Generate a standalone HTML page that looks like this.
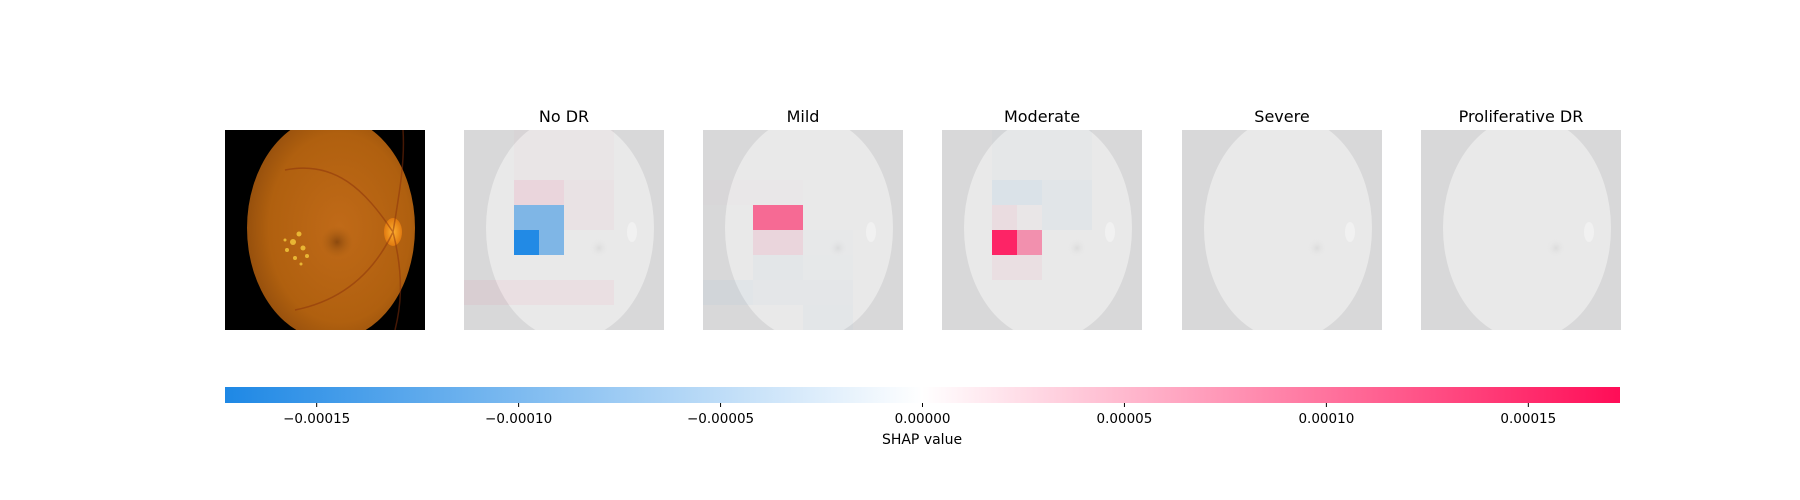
<!DOCTYPE html>
<html><head><meta charset="utf-8"><style>
html,body{margin:0;padding:0;background:#fff;}
svg{display:block;font-family:"DejaVu Sans","Liberation Sans",sans-serif;}
</style></head><body>
<svg id="fig" width="1800" height="500" viewBox="0 0 1800 500" xmlns="http://www.w3.org/2000/svg">
<defs>
  <clipPath id="pclip"><rect x="0" y="0" width="200" height="200"/></clipPath>
  <radialGradient id="fundus" cx="0.55" cy="0.5" r="0.6">
    <stop offset="0" stop-color="#c06a18"/>
    <stop offset="0.7" stop-color="#b0600f"/>
    <stop offset="1" stop-color="#8d4a0c"/>
  </radialGradient>
  <radialGradient id="disc" cx="0.5" cy="0.5" r="0.5">
    <stop offset="0" stop-color="#ffb030"/>
    <stop offset="1" stop-color="#e07a10"/>
  </radialGradient>
  <radialGradient id="mac" cx="0.5" cy="0.5" r="0.5">
    <stop offset="0" stop-color="#6a3408" stop-opacity="0.6"/>
    <stop offset="1" stop-color="#a05a10" stop-opacity="0"/>
  </radialGradient>
  <radialGradient id="gmac" cx="0.5" cy="0.5" r="0.5">
    <stop offset="0" stop-color="#dcdcdc"/>
    <stop offset="1" stop-color="#e9e9e9" stop-opacity="0"/>
  </radialGradient>
  <linearGradient id="cbar" x1="0" x2="1" y1="0" y2="0">
    <stop offset="0" stop-color="#1e88e5"/>
    <stop offset="0.5" stop-color="#ffffff"/>
    <stop offset="1" stop-color="#ff0d57"/>
  </linearGradient>
</defs>
<g id="orig" transform="translate(225,130)" clip-path="url(#pclip)">
  <rect width="200" height="200" fill="#000"/>
  <ellipse cx="106" cy="98" rx="84" ry="112" fill="url(#fundus)"/>
  <ellipse cx="112" cy="112" rx="16" ry="16" fill="url(#mac)"/>
  <ellipse cx="168" cy="102" rx="9" ry="14" fill="url(#disc)"/>
  <path d="M168 102 C140 60 110 30 60 40 M168 102 C150 140 120 170 70 180 M168 102 C175 60 180 30 178 0 M168 102 C180 150 175 180 170 200" stroke="#8a2f0a" stroke-width="1.5" fill="none" opacity="0.5"/>
  <g fill="#f2c53a" opacity="0.85">
    <circle cx="68" cy="112" r="3"/><circle cx="74" cy="104" r="2.5"/><circle cx="62" cy="120" r="2"/>
    <circle cx="78" cy="118" r="2.5"/><circle cx="70" cy="128" r="2"/><circle cx="82" cy="126" r="2"/>
    <circle cx="60" cy="110" r="1.5"/><circle cx="76" cy="134" r="1.5"/>
  </g>
</g>
<g id="panels"></g>
<g id="cb">
  <rect x="225" y="387" width="1395" height="16" fill="url(#cbar)"/>
</g>
<text x="922" y="444" font-size="14" text-anchor="middle" fill="#000">SHAP value</text>
</svg>
<script>
const classNames = ["No DR", "Mild", "Moderate", "Severe", "Proliferative DR"];
const vmax = 0.0001727;
const tickValues = [-0.00015, -0.0001, -0.00005, 0, 0.00005, 0.0001, 0.00015];
const tickLabels = ["\u22120.00015", "\u22120.00010", "\u22120.00005", "0.00000", "0.00005", "0.00010", "0.00015"];
// SHAP values per 8x8 cell, in units of 1e-5
const shapNoDR = [
 [0,0,0.25,0.25,0.25,0.25,0,0],
 [0,0,0.25,0.25,0.25,0.25,0,0],
 [0,0,1.5,1.5,0.5,0.5,0,0],
 [0,0,-9,-9,0.5,0.5,0,0],
 [0,0,-17,-9,0,0,0,0],
 [0,0,0,0,0,0,0,0],
 [0.8,0.8,0.8,0.8,0.8,0.8,0,0],
 [0,0,0,0,0,0,0,0]];
const shapMild = [
 [0,0,0,0,0,0,0,0],
 [0,0,0,0,0,0,0,0],
 [0.15,0.15,0.15,0.15,0,0,0,0],
 [0,0,10,10,0,0,0,0],
 [0,0,1.5,1.5,-0.15,-0.15,0,0],
 [0,0,-0.5,-0.5,-0.2,-0.2,0,0],
 [-0.6,-0.6,-0.4,-0.4,-0.4,-0.4,0,0],
 [0,0,0,0,-0.5,-0.5,0,0]];
const shapModerate = [
 [0,0,-0.35,-0.35,-0.35,-0.35,0,0],
 [0,0,-0.35,-0.35,-0.35,-0.35,0,0],
 [0,0,-1.2,-1.2,-0.6,-0.6,0,0],
 [0,0,1,0.2,-0.6,-0.6,0,0],
 [0,0,15.5,7,0,0,0,0],
 [0,0,0.8,0.8,0,0,0,0],
 [0,0,0,0,0,0,0,0],
 [0,0,0,0,0,0,0,0]];
const shapSevere = [
 [0,0,0,0,0,0,0,0],[0,0,0,0,0,0,0,0],[0,0,0,0,0,0,0,0],[0,0,0,0,0,0,0,0],
 [0,0,0,0,0,0,0,0],[0,0,0,0,0,0,0,0],[0,0,0,0,0,0,0,0],[0,0,0,0,0,0,0,0]];
const shapProlif = [
 [0,0,0,0,0,0,0,0],[0,0,0,0,0,0,0,0],[0,0,0,0,0,0,0,0],[0,0,0,0,0,0,0,0],
 [0,0,0,0,0,0,0,0],[0,0,0,0,0,0,0,0],[0,0,0,0,0,0,0,0],[0,0,0,0,0,0,0,0]];
const allShap = [shapNoDR, shapMild, shapModerate, shapSevere, shapProlif];

const NS = "http://www.w3.org/2000/svg";
const panelX0 = 464, panelStep = 239.2, panelY = 130, panelSize = 200;
const cbX0 = 225, cbX1 = 1620, cbY = 387, cbH = 16;
function xScale(v){ return cbX0 + (v + vmax) / (2*vmax) * (cbX1 - cbX0); }
function mk(tag, attrs, parent){ const e=document.createElementNS(NS,tag); for(const k in attrs) e.setAttribute(k,attrs[k]); parent.appendChild(e); return e; }

const panels = document.getElementById('panels');
classNames.forEach((name, i) => {
  const px = Math.round(panelX0 + i*panelStep);
  const g = mk('g', {transform:`translate(${px},${panelY})`, 'clip-path':'url(#pclip)'}, panels);
  
  
  mk('rect', {width:200, height:200, fill:'#d8d8d9'}, g);
  mk('ellipse', {cx:106, cy:98, rx:84, ry:112, fill:'#e9e9e9'}, g);
  mk('ellipse', {cx:168, cy:102, rx:5, ry:10, fill:'#f1f1f1'}, g);
  mk('ellipse', {cx:135, cy:118, rx:10, ry:10, fill:'url(#gmac)'}, g);
  const grid = allShap[i];
  const cell = panelSize / 8;
  for (let r=0; r<8; r++) for (let c=0; c<8; c++) {
    const v = grid[r][c] * 1e-5;
    if (v === 0) continue;
    const t = Math.min(1, Math.abs(v)/vmax);
    const rc = mk('rect', {x:c*cell, y:r*cell, width:cell, height:cell,
      fill: v>0 ? '#ff0d57' : '#1e88e5', 'fill-opacity': t.toFixed(3)}, g);
    
    
  }
  const t = mk('text', {x:px+100, y:122, 'font-size':16, 'text-anchor':'middle', fill:'#000'}, panels);
  t.textContent = name;
  
  
});

const cb = document.getElementById('cb');
tickValues.forEach((v, i) => {
  const x = xScale(v);
  const tk = mk('line', {x1:x, x2:x, y1:cbY+cbH, y2:cbY+cbH+4, stroke:'#000', 'stroke-width':1}, cb);
  
  
  const lb = mk('text', {x:x, y:cbY+cbH+20, 'font-size':13.5, 'text-anchor':'middle', fill:'#000'}, cb);
  lb.textContent = tickLabels[i];
  
  
});
</script>
</body></html>
